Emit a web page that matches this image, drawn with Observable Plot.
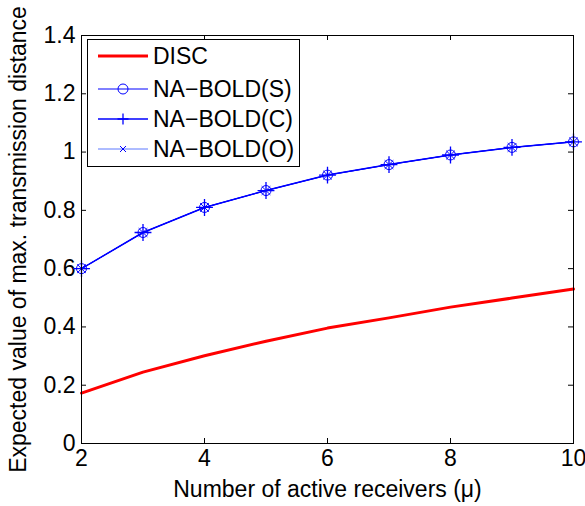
<!DOCTYPE html>
<html>
<head>
<meta charset="utf-8">
<script src="https://cdn.jsdelivr.net/npm/d3@7"></script>
<script src="https://cdn.jsdelivr.net/npm/@observablehq/plot@0.6"></script>
<style>
  html, body { margin: 0; padding: 0; background: #fff; }
  #wrap { position: relative; width: 585px; height: 506px; font-family: "Liberation Sans", Arial, sans-serif; }
  #legend { position: absolute; left: 87px; top: 39px; }
</style>
</head>
<body>
<div id="wrap">
  <div id="chart"></div>
  <svg id="legend" width="214" height="129"></svg>
</div>
<script>
const receivers = [2, 3, 4, 5, 6, 7, 8, 9, 10];
const disc    = [0.173, 0.245, 0.301, 0.351, 0.396, 0.431, 0.468, 0.499, 0.530];
const boldS   = [0.600, 0.724, 0.810, 0.868, 0.921, 0.957, 0.990, 1.016, 1.035];
const boldC   = [0.600, 0.724, 0.810, 0.868, 0.921, 0.957, 0.990, 1.016, 1.035];
const boldO   = [0.600, 0.724, 0.810, 0.868, 0.921, 0.957, 0.990, 1.016, 1.035];
const seriesNames = ["DISC", "NA\u2212BOLD(S)", "NA\u2212BOLD(C)", "NA\u2212BOLD(O)"];
const xTicks = [2, 4, 6, 8, 10];
const yTicks = [0, 0.2, 0.4, 0.6, 0.8, 1, 1.2, 1.4];
const xLabel = "Number of active receivers (\u03bc)";
const yLabel = "Expected value of max. transmission distance";

const toRows = (vals) => receivers.map((x, i) => ({x, y: vals[i]}));
const rDisc = toRows(disc), rS = toRows(boldS), rC = toRows(boldC), rO = toRows(boldO);

const W = 585, H = 506, mL = 81, mR = 12, mT = 35, mB = 63;
const innerW = W - mL - mR, innerH = H - mT - mB;
const tk = 5;
const blue = "#0000ff", red = "#ff0000";
const FS = 23;

const chart = Plot.plot({
  width: W, height: H,
  marginLeft: mL, marginRight: mR, marginTop: mT, marginBottom: mB,
  style: {fontFamily: "'Liberation Sans', Arial, sans-serif", background: "#fff", color: "#000"},
  x: {domain: [2, 10]},
  y: {domain: [0, 1.4]},
  marks: [
    Plot.axisX({ticks: xTicks, tickSize: 0, tickPadding: 6, fontSize: FS, label: null, tickFormat: d => String(d)}),
    Plot.axisY({ticks: yTicks, tickSize: 0, tickPadding: 6, fontSize: FS, label: null, tickFormat: d => String(d)}),
    // inward ticks on all four sides
    Plot.tickX(xTicks, {x: d => d, insetTop: innerH - tk, stroke: "#000"}),
    Plot.tickX(xTicks, {x: d => d, insetBottom: innerH - tk, stroke: "#000"}),
    Plot.tickY(yTicks, {y: d => d, insetRight: innerW - tk, stroke: "#000"}),
    Plot.tickY(yTicks, {y: d => d, insetLeft: innerW - tk, stroke: "#000"}),
    Plot.line(rDisc, {x: "x", y: "y", stroke: red, strokeWidth: 3}),
    Plot.line(rS, {x: "x", y: "y", stroke: blue, strokeWidth: 1}),
    Plot.line(rC, {x: "x", y: "y", stroke: blue, strokeWidth: 1.5}),
    Plot.line(rO, {x: "x", y: "y", stroke: blue, strokeWidth: 0.8}),
    Plot.dot(rS, {x: "x", y: "y", symbol: "circle", r: 5, stroke: blue, fill: "none", strokeWidth: 1}),
    Plot.dot(rC, {x: "x", y: "y", symbol: "plus", r: 5.5, stroke: blue, strokeWidth: 1.3}),
    Plot.dot(rO, {x: "x", y: "y", symbol: "times", r: 4, stroke: blue, strokeWidth: 1}),
    Plot.frame({stroke: "#000", strokeWidth: 1}),
    Plot.text([xLabel], {frameAnchor: "bottom", dy: 53, fontSize: FS, fill: "#000"}),
    Plot.text([yLabel], {frameAnchor: "left", textAnchor: "middle", dx: -63, rotate: -90, fontSize: FS, fill: "#000"})
  ]
});
document.getElementById("chart").appendChild(chart);

// Legend
const leg = d3.select("#legend");
leg.append("rect").attr("x", 0.5).attr("y", 0.5).attr("width", 212).attr("height", 127)
  .attr("fill", "#fff").attr("stroke", "#000");
const rowsY = [17, 50, 80, 110];
const styles = [
  {stroke: red, sw: 3, sym: null},
  {stroke: blue, sw: 1, sym: "circle"},
  {stroke: blue, sw: 1.5, sym: "plus"},
  {stroke: "#3355ff", sw: 0.8, sym: "times"}
];
seriesNames.forEach((name, i) => {
  const y = rowsY[i], s = styles[i];
  leg.append("line").attr("x1", 11).attr("x2", 61).attr("y1", y).attr("y2", y)
    .attr("stroke", s.stroke).attr("stroke-width", s.sw);
  if (s.sym === "circle") {
    leg.append("circle").attr("cx", 36).attr("cy", y).attr("r", 5).attr("fill", "none").attr("stroke", blue);
  } else if (s.sym === "plus") {
    leg.append("path").attr("d", `M36,${y-5.5}V${y+5.5}M30.5,${y}H41.5`).attr("stroke", blue).attr("stroke-width", 1.3);
  } else if (s.sym === "times") {
    leg.append("path").attr("d", `M33,${y-3}L39,${y+3}M33,${y+3}L39,${y-3}`).attr("stroke", blue).attr("stroke-width", 1);
  }
  leg.append("text").attr("x", 66).attr("y", y).attr("dy", "0.36em")
    .attr("font-size", FS).attr("font-family", "'Liberation Sans', Arial, sans-serif")
    .attr("fill", "#000").text(name);
});
</script>
</body>
</html>
